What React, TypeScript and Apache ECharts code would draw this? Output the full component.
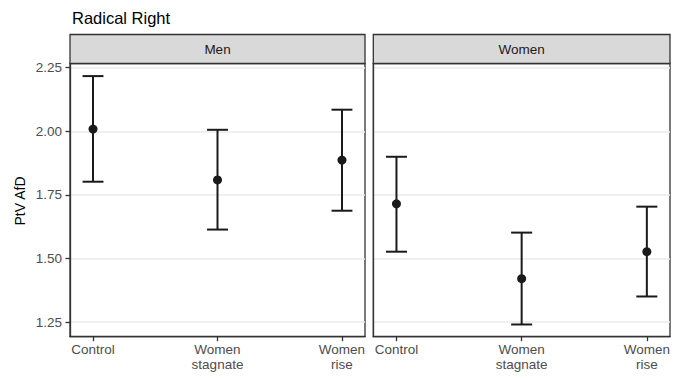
import React, { useEffect, useRef } from "react";
import * as echarts from "echarts";

const title = "Radical Right";
const yTitle = "PtV AfD";
const panels = ["Men", "Women"];
const categories = ["Control", "Women\nstagnate", "Women\nrise"];
const yTicks = [1.25, 1.5, 1.75, 2.0, 2.25];

const menMean = [2.009, 1.809, 1.887];
const menLower = [1.802, 1.614, 1.688];
const menUpper = [2.217, 2.006, 2.085];

const womenMean = [1.715, 1.421, 1.527];
const womenLower = [1.527, 1.241, 1.351];
const womenUpper = [1.9, 1.602, 1.704];

const FONT = "'Liberation Sans', Arial, Helvetica, sans-serif";
const INK = "#1A1A1A";

export default function App() {
  const ref = useRef<HTMLDivElement>(null);

  useEffect(() => {
    if (!ref.current) return;
    const chart = echarts.init(ref.current, null, { renderer: "svg" });

    const panelData = [
      { mean: menMean, lower: menLower, upper: menUpper },
      { mean: womenMean, lower: womenLower, upper: womenUpper },
    ];

    const grids = [
      { left: 70, top: 63.5, width: 295, height: 273.2 },
      { left: 373.3, top: 63.5, width: 296.7, height: 273.2 },
    ];

    const capHalf = 0.084;

    const series: any[] = [];
    panelData.forEach((p, i) => {
      series.push({
        type: "custom",
        xAxisIndex: i,
        yAxisIndex: i,
        data: p.mean.map((_, k) => [k, p.lower[k], p.upper[k]]),
        renderItem: (params: any, api: any) => {
          const x = api.value(0);
          const lo = api.value(1);
          const hi = api.value(2);
          const pLo = api.coord([x, lo]);
          const pHi = api.coord([x, hi]);
          const left = api.coord([x - capHalf, lo])[0];
          const right = api.coord([x + capHalf, lo])[0];
          const style = { stroke: INK, lineWidth: 2 };
          return {
            type: "group",
            children: [
              { type: "line", shape: { x1: pLo[0], y1: pLo[1], x2: pHi[0], y2: pHi[1] }, style },
              { type: "line", shape: { x1: left, y1: pLo[1], x2: right, y2: pLo[1] }, style },
              { type: "line", shape: { x1: left, y1: pHi[1], x2: right, y2: pHi[1] }, style },
            ],
          };
        },
        z: 3,
      });
      series.push({
        type: "scatter",
        xAxisIndex: i,
        yAxisIndex: i,
        data: p.mean.map((v, k) => [k, v]),
        symbol: "circle",
        symbolSize: 9,
        itemStyle: { color: INK, opacity: 1 },
        z: 4,
      });
    });

    const graphics: any[] = [];
    grids.forEach((g, i) => {
      graphics.push({
        type: "rect",
        shape: { x: g.left, y: 34.5, width: g.width, height: 29 },
        style: { fill: "#D9D9D9", stroke: "#333333", lineWidth: 1.3 },
        z: 10,
      });
      graphics.push({
        type: "text",
        x: g.left + g.width / 2,
        y: 49.5,
        style: {
          text: panels[i],
          fill: "#1A1A1A",
          font: `13.5px ${FONT}`,
          textAlign: "center",
          textVerticalAlign: "middle",
        },
        z: 11,
      });
    });
    graphics.push({
      type: "text",
      x: 20,
      y: 201,
      rotation: Math.PI / 2,
      style: {
        text: yTitle,
        fill: "#000000",
        font: `14px ${FONT}`,
        textAlign: "center",
        textVerticalAlign: "middle",
      },
    });

    const axisLine = { show: true, onZero: false, lineStyle: { color: "#333333", width: 1.3 } };

    chart.setOption({
      animation: false,
      backgroundColor: "#FFFFFF",
      title: {
        text: title,
        left: 72,
        top: 9,
        padding: 0,
        textStyle: { fontFamily: FONT, fontSize: 16.5, fontWeight: "normal", color: "#000000" },
      },
      grid: grids.map((g) => ({
        ...g,
        show: true,
        borderColor: "#333333",
        borderWidth: 1.3,
        backgroundColor: "transparent",
        containLabel: false,
      })),
      xAxis: grids.map((_, i) => ({
        type: "value",
        gridIndex: i,
        position: "bottom",
        min: -0.185,
        max: 2.185,
        axisLine,
        axisTick: {
          show: true,
          inside: false,
          length: 4.5,
          customValues: [0, 1, 2],
          lineStyle: { color: "#333333", width: 1.3 },
        },
        splitLine: { show: false },
        axisLabel: {
          customValues: [0, 1, 2],
          formatter: (v: number) => categories[Math.round(v)] ?? "",
          color: "#4D4D4D",
          fontFamily: FONT,
          fontSize: 13.5,
          lineHeight: 14.5,
          margin: 6,
          align: "center",
        },
      })),
      yAxis: grids.map((_, i) => ({
        type: "value",
        gridIndex: i,
        position: "left",
        min: 1.193,
        max: 2.2665,
        axisLine,
        axisTick: {
          show: i === 0,
          inside: false,
          length: 4.5,
          customValues: yTicks,
          lineStyle: { color: "#333333", width: 1.3 },
        },
        splitLine: { show: true, lineStyle: { color: "#EBEBEB", width: 1.5 } },
        axisLabel: {
          show: i === 0,
          customValues: yTicks,
          formatter: (v: number) => v.toFixed(2),
          color: "#4D4D4D",
          fontFamily: FONT,
          fontSize: 13.5,
          margin: 8,
        },
      })),
      graphic: graphics,
      series,
    });

    return () => chart.dispose();
  }, []);

  return (
    <div
      ref={ref}
      style={{ position: "fixed", left: 0, top: 0, width: 682, height: 378, background: "#fff" }}
    />
  );
}
